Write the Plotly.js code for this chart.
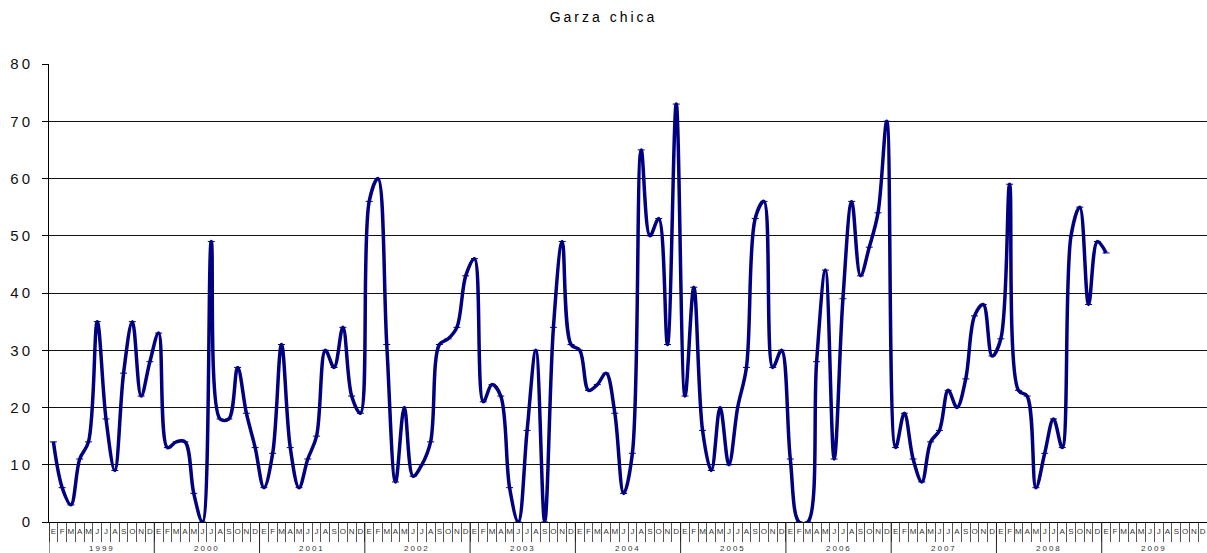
<!DOCTYPE html>
<html>
<head>
<meta charset="utf-8">
<script src="https://cdn.plot.ly/plotly-3.0.1.min.js"></script>
<style>
  html, body { margin: 0; padding: 0; background: #fff; }
  #chart { width: 1207px; height: 553px; }
</style>
</head>
<body>
<div id="chart"></div>
<script>
// month letters (Spanish) and years on the axis
var months = ["E", "F", "M", "A", "M", "J", "J", "A", "S", "O", "N", "D"];
var years = ["1999", "2000", "2001", "2002", "2003", "2004", "2005", "2006", "2007", "2008", "2009"];

// monthly counts
var v1999 = [14, 6, 3, 11, 14, 35, 18, 9, 26, 35, 22, 28];
var v2000 = [33, 13, 14, 14, 5, 0, 49, 18, 18, 27, 19, 13];
var v2001 = [6, 12, 31, 13, 6, 11, 15, 30, 27, 34, 22, 19];
var v2002 = [56, 60, 31, 7, 20, 8, 10, 14, 31, 32, 34, 43];
var v2003 = [46, 21, 24, 22, 6, 0, 16, 30, 0, 34, 49, 31];
var v2004 = [30, 23, 24, 26, 19, 5, 12, 65, 50, 53, 31, 73];
var v2005 = [22, 41, 16, 9, 20, 10, 20, 27, 53, 56, 27, 30];
var v2006 = [11, 0, 0, 28, 44, 11, 39, 56, 43, 48, 54, 70];
var v2007 = [13, 19, 11, 7, 14, 16, 23, 20, 25, 36, 38, 29];
var v2008 = [32, 59, 23, 22, 6, 12, 18, 13, 50, 55, 38, 49];
var v2009 = [47];

var yTicks = [0, 10, 20, 30, 40, 50, 60, 70, 80];

// one slot per month, 1999-2009
var byYear = [v1999, v2000, v2001, v2002, v2003, v2004, v2005, v2006, v2007, v2008, v2009];
var xIdx = [], yVal = [], monthText = [];
years.forEach(function (yr, i) {
  months.forEach(function (m, j) {
    var v = byYear[i][j];
    xIdx.push(i * 12 + j);
    monthText.push(m);
    yVal.push(v === undefined ? null : v);
  });
});

var trace1 = {
  x: xIdx,
  y: yVal,
  type: "scatter",
  mode: "lines+markers",
  line: { color: "#000080", width: 3.5, shape: "spline", smoothing: 1 },
  marker: { symbol: "line-ew-open", size: 5, color: "#000080", line: { color: "#000080", width: 1 } },
  connectgaps: false,
  hoverinfo: "skip",
  showlegend: false
};

// year dividers and year labels under the month letters
var plotH = 553 - 64 - 31;
var shapes = [], annotations = [];
years.forEach(function (yr, i) {
  shapes.push({
    type: "line", xref: "x", yref: "paper",
    x0: i * 12 - 0.5, x1: i * 12 - 0.5, y0: 0, y1: -31 / plotH,
    line: { color: "#222", width: 1 }
  });
  annotations.push({
    xref: "x", yref: "paper", x: i * 12 + 5.5, y: -26 / plotH,
    text: yr, showarrow: false, yanchor: "middle",
    font: { size: 8, color: "#333" }
  });
});

var layout = {
  width: 1207,
  height: 553,
  margin: { l: 49, r: 0, t: 64, b: 31 },
  paper_bgcolor: "#fff",
  plot_bgcolor: "#fff",
  font: { family: "Liberation Sans, Arial, sans-serif", color: "#000" },
  title: {
    text: "Garza chica",
    font: { size: 14, color: "#000" },
    x: 0.5, xref: "container", xanchor: "center",
    y: 0.969, yref: "container", yanchor: "middle"
  },
  xaxis: {
    range: [-0.5, 131.5],
    tickmode: "array",
    tickvals: xIdx,
    ticktext: monthText,
    ticks: "",
    tickfont: { size: 8, color: "#333" },
    ticklabelstandoff: 1,
    minor: { tickmode: "linear", tick0: -0.5, dtick: 1, ticks: "outside", ticklen: 19, tickwidth: 1, tickcolor: "#555" },
    showline: true,
    linecolor: "#000",
    linewidth: 1,
    showgrid: false,
    zeroline: false,
    fixedrange: true
  },
  yaxis: {
    range: [0, 80],
    tickmode: "array",
    tickvals: yTicks,
    ticks: "outside",
    ticklen: 6,
    tickcolor: "#000",
    showline: true,
    linecolor: "#000",
    linewidth: 1,
    showgrid: true,
    gridcolor: "#111",
    gridwidth: 1,
    zeroline: false,
    tickfont: { size: 15, color: "#111" },
    ticklabelstandoff: 6,
    fixedrange: true
  },
  shapes: shapes,
  annotations: annotations
};

Plotly.newPlot("chart", [trace1], layout, { staticPlot: true }).then(function () {
  // spaced lettering like the original sheet
  document.querySelectorAll(".gtitle").forEach(function (t) { t.style.letterSpacing = "3px"; });
  document.querySelectorAll(".ytick text").forEach(function (t) { t.style.letterSpacing = "3px"; });
  document.querySelectorAll(".annotation-text").forEach(function (t) { t.style.letterSpacing = "2px"; });
});
</script>
</body>
</html>
